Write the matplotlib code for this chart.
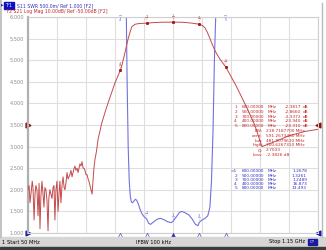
import matplotlib.pyplot as plt
import numpy as np

W, H = 326, 250

# trace 1: S11 SWR (MHz, SWR) - values above 6 are off screen
s11_freq = [50, 200, 350, 400, 415, 422, 426, 430, 434, 438, 442, 447, 452, 457, 462,
            468, 475, 482, 490, 500, 508, 515, 525, 540, 552, 565, 580, 592, 600,
            612, 625, 635, 648, 660, 672, 685, 695, 700, 710, 722, 732, 740, 746,
            752, 757, 762, 800, 950, 1150]
s11_swr = [40, 35, 25, 16.873, 9.0, 6.5, 4.5, 3.0, 2.2, 1.85, 1.72, 1.70, 1.74, 1.78, 1.76,
           1.68, 1.55, 1.45, 1.38, 1.3261, 1.22, 1.20, 1.25, 1.32, 1.34, 1.31, 1.26, 1.24, 1.2678,
           1.37, 1.48, 1.50, 1.46, 1.42, 1.33, 1.20, 1.17, 1.2489, 1.30, 1.34, 1.40, 1.60, 2.2,
           3.4, 5.0, 6.5, 13.493, 25, 30]

# trace 2: S21 log mag (MHz, dB)
s21_freq = [50, 54, 57.6, 62, 66, 69, 73, 76.5, 80, 84, 88, 92, 95.5, 99, 103, 107, 110.7,
            114, 118, 122, 126, 129, 133, 137, 141, 145, 148.6, 152, 156, 160, 164, 168,
            171, 175, 179, 183, 187, 190, 194, 198, 202, 205.5, 209, 213, 217, 221, 225,
            228, 232, 236, 240, 247, 251, 255, 259, 262, 266, 270, 274, 278, 281, 285,
            289, 293, 296.5, 300, 304, 310, 315.5, 330, 345, 361, 380, 402.7, 415, 429,
            437, 444, 455, 467, 480, 500, 525, 551, 575, 600, 625, 649, 675, 700, 711,
            721, 730, 740, 750, 759, 768, 778, 790, 801, 840, 880, 910, 937.5, 980, 1040,
            1100, 1150]
s21_db = [-80, -78, -86, -81, -76, -79, -94, -82, -78, -80, -92, -77, -98, -83, -76, -82, -88,
          -79, -80, -85, -99, -84, -80, -82, -84, -79, -78, -94, -80, -76, -90, -81,
          -76, -86, -78, -74, -79, -80, -77, -72, -75, -74, -73, -71, -74, -72, -70,
          -69, -71, -70, -72, -68, -69, -67, -70, -70, -71, -73, -73, -75, -76, -78,
          -80, -82, -76, -70, -66, -62, -56.8, -49, -43, -37.2, -30.5, -23.94, -18, -10.5,
          -7, -4.5, -3.4, -3.1, -2.95, -2.866, -2.6, -2.45, -2.4, -2.3817, -2.4, -2.55, -2.9, -3.3372, -3.9,
          -5, -7, -10, -13, -15.5, -17.5, -19.5, -21.5, -23.31, -32, -42, -50, -60, -58, -55,
          -53, -52]

marker_freq = [600, 500, 700, 400, 800]
marker_s21 = ['-2.3817', '-2.8660', '-3.3372', '-23.940', '-23.310']
marker_s11 = ['1.2678', '1.3261', '1.2489', '16.873', '13.493']

stat_names = ['BW:', 'cent:', 'low:', 'high:', 'Q:', 'Loss:']
stat_values = ['218.7187700 MHz', '591.2673460 MHz', '481.9079610 MHz',
               '700.6267310 MHz', '2.7033', '-2.3826 dB']

BLUE = '#7272dc'
RED = '#c44a4a'
TBLUE = '#3030c0'
TRED = '#c02828'
GRID = '#dedede'
FS = 3.6
TS = 3.1

fig = plt.figure(figsize=(W / 100, H / 100), dpi=100)
fig.patch.set_facecolor('white')


def fx(x):
    return x / W


def fy(y):
    return 1 - y / H


ax = fig.add_axes([fx(28), fy(233), fx(318) - fx(28), fy(17) - fy(233)])
ax.set_xlim(50, 1150)
ax.set_ylim(1, 6)
ax.set_xticks(np.linspace(50, 1150, 11))
ax.set_yticks(np.arange(1, 6.01, 0.5))
ax.grid(True, color=GRID, lw=0.8)
ax.tick_params(length=0, labelbottom=False, labelsize=FS, labelcolor='#8a8a8a', pad=3)
ax.set_yticklabels(['%.3f' % v for v in np.arange(1, 6.01, 0.5)])
for s in ax.spines.values():
    s.set_color('#cfcfcf')
    s.set_linewidth(0.8)
ax.spines['left'].set_color('#b0b0b0')
ax.spines['left'].set_linewidth(1.6)

ax2 = ax.twinx()
ax2.set_ylim(-100, 0)
ax2.set_yticks([])
for s in ax2.spines.values():
    s.set_visible(False)

# blue SWR trace: the upper band edge is held on the top line like the analyser shows it
s11_f = np.array(s11_freq)
s11_v = np.array(s11_swr)
swr_plot = np.where(s11_f > 650, np.clip(s11_v, 1, 6.0), s11_v)
ax.plot(s11_f, swr_plot, color=BLUE, lw=0.8)
ax2.plot(s21_freq, s21_db, color=RED, lw=0.7)

# markers on traces
for i, f in enumerate(marker_freq):
    v = np.interp(f, s21_freq, s21_db)
    ax2.plot(f, v, 's', color='#a01818', ms=1.1)
    ax2.annotate('%d\n\u25bd' % (i + 1), (f, v), xytext=(0, 1.0), textcoords='offset points',
                 ha='center', va='bottom', fontsize=2.8, color=RED, linespacing=0.6)
    sv = float(marker_s11[i])
    if sv < 6:
        ax.annotate('%d\n\u25bd' % (i + 1), (f, sv), xytext=(0, 1.0), textcoords='offset points',
                    ha='center', va='bottom', fontsize=2.8, color=BLUE, linespacing=0.6)
    else:
        ax.annotate('\u25bd\n%d' % (i + 1), (f, 6.0), xytext=(0, 1.5), textcoords='offset points',
                    ha='center', va='top', fontsize=2.8, color=BLUE, linespacing=0.6,
                    annotation_clip=False)
    ax.plot([f], [0.96], marker='^', ms=3.2, mfc='#1a1aa0' if i == 0 else 'white',
            mec='#5050c0', mew=0.5, clip_on=False, zorder=5, linestyle='none')

# reference position triangles
ax.plot([50], [1.0], marker='>', ms=3.5, color='#1a1ab0', clip_on=False)
ax.plot([50], [3.5], marker='>', ms=3.5, color='#8b1010', clip_on=False)
ax.plot([1150], [1.0], marker='<', ms=3.5, color='#1a1ab0', clip_on=False)
ax.plot([1150], [3.5], marker='<', ms=3.5, color='#8b1010', clip_on=False)

# header
fig.patches.append(plt.Rectangle((fx(4), fy(9)), fx(10), fy(2) - fy(9), transform=fig.transFigure,
                                 color='#1010c0', zorder=1))
fig.text(fx(0.5), fy(5.5), '\u25b6', fontsize=2.5, color='#1010c0', va='center')
fig.text(fx(5), fy(5.5), 'Tr1', fontsize=3.3, color='white', va='center', zorder=3)
fig.text(fx(17), fy(5.5), 'S11 SWR 500.0m/ Ref 1.000 [F2]', fontsize=3.3, color=TBLUE, va='center')
fig.text(fx(5), fy(11.5), 'Tr2 S21 Log Mag 10.00dB/ Ref -50.00dB [F2]', fontsize=3.3, color=TRED,
         va='center')

# marker tables
for i in range(5):
    y = 107 + i * 4.8
    fig.text(fx(237), fy(y), '%d' % (i + 1), fontsize=TS, color=TRED, va='center', ha='right')
    fig.text(fx(242), fy(y), '%.5f' % marker_freq[i], fontsize=TS, color=TRED, va='center')
    fig.text(fx(268), fy(y), 'MHz', fontsize=TS, color=TRED, va='center')
    fig.text(fx(301), fy(y), marker_s21[i], fontsize=TS, color=TRED, va='center', ha='right')
    fig.text(fx(303), fy(y), 'dB', fontsize=TS, color=TRED, va='center')
for i in range(6):
    y = 131 + i * 4.8
    fig.text(fx(263), fy(y), stat_names[i], fontsize=TS, color=TRED, va='center', ha='right')
    fig.text(fx(266), fy(y), stat_values[i], fontsize=TS, color=TRED, va='center')
for i in range(5):
    y = 171.5 + i * 4.2
    fig.text(fx(237), fy(y), ('>' if i == 0 else '') + '%d' % (i + 1), fontsize=TS, color=TBLUE,
             va='center', ha='right')
    fig.text(fx(242), fy(y), '%.5f' % marker_freq[i], fontsize=TS, color=TBLUE, va='center')
    fig.text(fx(268), fy(y), 'MHz', fontsize=TS, color=TBLUE, va='center')
    fig.text(fx(307), fy(y), marker_s11[i], fontsize=TS, color=TBLUE, va='center', ha='right')

# status bar
fig.patches.append(plt.Rectangle((0, fy(247)), 1, fy(237) - fy(247), transform=fig.transFigure,
                                 color='#d6d6d6', zorder=0))
fig.patches.append(plt.Rectangle((0, 0), 1, fy(247), transform=fig.transFigure,
                                 color='#3c3c3c', zorder=0))
fig.text(fx(2), fy(242), '1', fontsize=FS, color='black', va='center')
fig.text(fx(7), fy(242), 'Start 50 MHz', fontsize=FS, color='black', va='center')
fig.text(fx(154), fy(242), 'IFBW 100 kHz', fontsize=FS, color='black', va='center', ha='center')
fig.text(fx(305), fy(242), 'Stop 1.15 GHz', fontsize=FS, color='black', va='center', ha='right')
fig.patches.append(plt.Rectangle((fx(308), fy(245)), fx(9), fy(239) - fy(245),
                                 transform=fig.transFigure, color='#1a1aa0', zorder=1))
fig.text(fx(312.5), fy(242), 'C?', fontsize=3, color='white', va='center', ha='center', zorder=3)

# window frame lines
fig.add_artist(plt.Line2D([fx(1), fx(1)], [fy(0), fy(237)], color='#b8b8b8', lw=1.2))
fig.add_artist(plt.Line2D([fx(322), fx(322)], [fy(3), fy(237)], color='#b8b8b8', lw=1.0))

fig.savefig('out.png', dpi=100)
